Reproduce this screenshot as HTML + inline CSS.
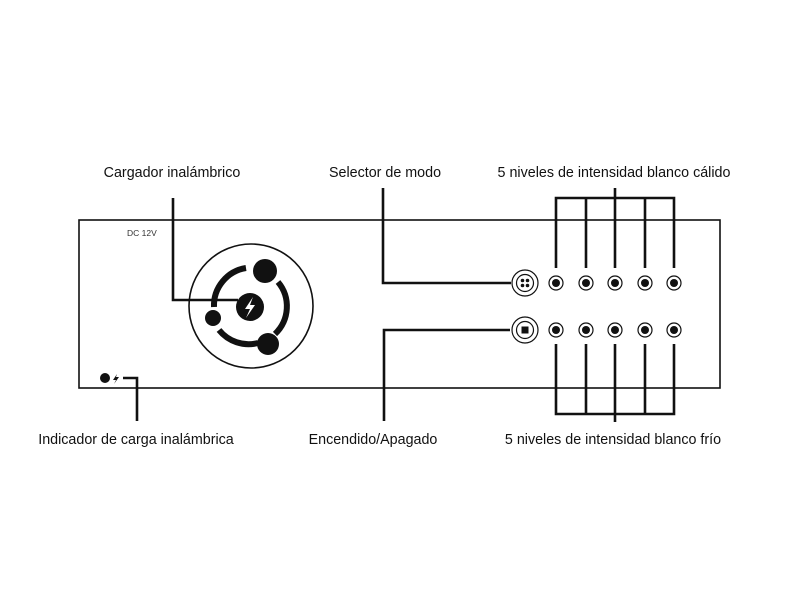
<!DOCTYPE html><html><head><style>body{margin:0;background:#fff}</style></head><body>
<svg width="800" height="600" xmlns="http://www.w3.org/2000/svg" font-family="Liberation Sans, sans-serif">
<rect width="800" height="600" fill="#fff"/>
<rect x="79" y="220" width="641" height="168" fill="none" stroke="#111" stroke-width="1.6"/>
<text x="127" y="236" font-size="8.5" fill="#333">DC 12V</text>
<g font-size="14.3" fill="#111" text-anchor="middle">
<text x="172" y="177">Cargador inalámbrico</text>
<text x="385" y="177">Selector de modo</text>
<text x="614" y="177">5 niveles de intensidad blanco cálido</text>
<text x="136" y="444">Indicador de carga inalámbrica</text>
<text x="373" y="444">Encendido/Apagado</text>
<text x="613" y="444">5 niveles de intensidad blanco frío</text>
</g>
<g stroke="#111" stroke-width="2.6" fill="none">
<polyline points="173,198 173,300 238,300"/>
<polyline points="123,378 137,378 137,421"/>
<polyline points="383,188 383,283 511,283"/>
<polyline points="510,330 384,330 384,421"/>
<polyline points="556,268 556,198 674,198 674,268"/>
<line x1="586" y1="198" x2="586" y2="268"/><line x1="615" y1="188" x2="615" y2="268"/><line x1="645" y1="198" x2="645" y2="268"/>
<polyline points="556,344 556,414 674,414 674,344"/>
<line x1="586" y1="344" x2="586" y2="414"/><line x1="615" y1="344" x2="615" y2="422"/><line x1="645" y1="344" x2="645" y2="414"/>
</g>
<circle cx="251" cy="306" r="62" fill="none" stroke="#111" stroke-width="1.6"/>
<g fill="none" stroke="#111" stroke-width="6">
<path d="M214 307 A38 38 0 0 1 246 268"/>
<path d="M256 268 A38 38 0 0 1 267 272" stroke="none"/>
<path d="M278 282 A38 38 0 0 1 275 334"/>
<path d="M258 343 A38 38 0 0 1 219 330"/>
</g>
<circle cx="265" cy="271" r="12" fill="#111"/>
<circle cx="268" cy="344" r="11" fill="#111"/>
<circle cx="213" cy="318" r="8" fill="#111"/>
<circle cx="250" cy="307" r="14" fill="#111"/>
<path d="M253 297 L245 309 L250 309 L246 318 L255 305 L250 305 Z" fill="#fff"/>
<circle cx="105" cy="378" r="5" fill="#111"/>
<path d="M117 374 L113 380 L116 380 L114 384 L119 377 L116 377Z" fill="#111"/>
<g fill="none" stroke="#111" stroke-width="1.2">
<circle cx="525" cy="283" r="13"/><circle cx="525" cy="283" r="8.5"/>
<circle cx="525" cy="330" r="13"/><circle cx="525" cy="330" r="8.5"/>
</g>
<g fill="#111"><circle cx="522.5" cy="280.5" r="1.8"/><circle cx="527.5" cy="280.5" r="1.8"/><circle cx="522.5" cy="285.5" r="1.8"/><circle cx="527.5" cy="285.5" r="1.8"/>
<rect x="521.5" y="326.5" width="7" height="7"/></g>
<g>
<g fill="#fff" stroke="#111" stroke-width="1.2">
<circle cx="556" cy="283" r="7"/><circle cx="586" cy="283" r="7"/><circle cx="615" cy="283" r="7"/><circle cx="645" cy="283" r="7"/><circle cx="674" cy="283" r="7"/>
<circle cx="556" cy="330" r="7"/><circle cx="586" cy="330" r="7"/><circle cx="615" cy="330" r="7"/><circle cx="645" cy="330" r="7"/><circle cx="674" cy="330" r="7"/>
</g>
<g fill="#111">
<circle cx="556" cy="283" r="4"/><circle cx="586" cy="283" r="4"/><circle cx="615" cy="283" r="4"/><circle cx="645" cy="283" r="4"/><circle cx="674" cy="283" r="4"/>
<circle cx="556" cy="330" r="4"/><circle cx="586" cy="330" r="4"/><circle cx="615" cy="330" r="4"/><circle cx="645" cy="330" r="4"/><circle cx="674" cy="330" r="4"/>
</g></g>
</svg></body></html>
